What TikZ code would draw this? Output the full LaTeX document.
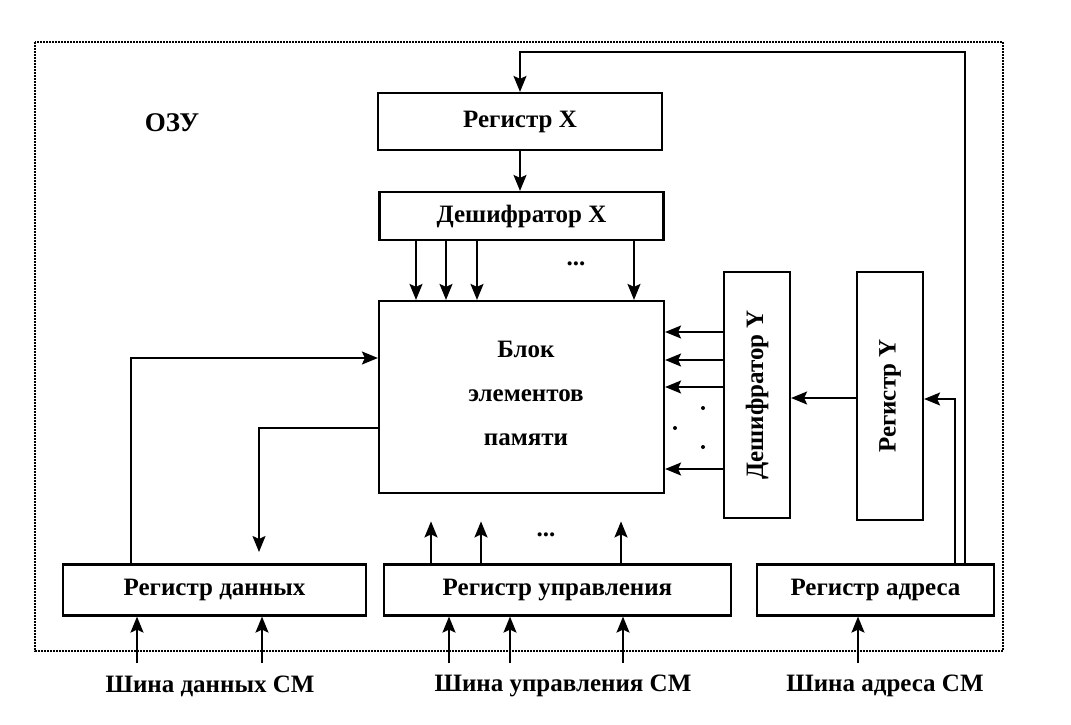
\documentclass[tikz,border=0pt]{standalone}
\usepackage{fontspec}
\setmainfont{Liberation Serif}
\usetikzlibrary{arrows.meta}
\tikzstyle{arrow} = [line width=1.8pt,-{Stealth[length=16pt,width=13pt,inset=3pt]}]
\tikzstyle{block} = [draw,line width=2.2pt,inner sep=0pt,font=\bfseries\fontsize{25}{28}\selectfont]
\tikzstyle{label} = [font=\bfseries\fontsize{25}{28}\selectfont]

\begin{document}
\begin{tikzpicture}[x=1pt,y=-1pt]
            \useasboundingbox (0,0) rectangle (1071,724);
            % outer frame
            \draw[line width=2pt,densely dotted] (35,42) rectangle (1003,651);
            \node[label,font=\bfseries\fontsize{27}{30}\selectfont] (ozu) at (172,123) {ОЗУ};

            % X side
            \node[block,minimum width=284pt,minimum height=57pt] (regx) at (520,121.5) {Регистр X};
            \node[block,minimum width=284pt,minimum height=48pt] (decx) at (521.5,216) {Дешифратор X};
            \node[block,minimum width=285pt,minimum height=192pt] (blok) at (521.5,397) {};
            \node[label,align=center,font=\bfseries\fontsize{25}{44}\selectfont] (blokt) at (526,393) {Блок\\элементов\\памяти};

            % Y side
            \node[block,rotate=90,minimum width=246pt,minimum height=66pt] (decy) at (757,395) {Дешифратор Y};
            \node[block,rotate=90,minimum width=248pt,minimum height=66pt] (regy) at (890,396) {Регистр Y};

            % lower registers
            \node[block,minimum width=303pt,minimum height=51pt] (regd) at (214.5,590) {Регистр данных};
            \node[block,minimum width=347pt,minimum height=51pt] (regu) at (557.5,590) {Регистр управления};
            \node[block,minimum width=237pt,minimum height=51pt] (rega) at (875.5,590) {Регистр адреса};

            % buses
            \node[label] (busd) at (210,686) {Шина данных СМ};
            \node[label] (busu) at (563,686) {Шина управления СМ};
            \node[label] (busa) at (885,686) {Шина адреса СМ};

            % X decoding
            \draw[arrow] (regx.south) -- (regx.south |- decx.north);
            \foreach \x in {416,446,477,634}
                \draw[arrow] (decx.south -| \x,0) -- (blok.north -| \x,0);
            \node[label] (dotsx) at (576,264) {...};

            % Y decoding
            \foreach \y in {332,360,387,469}
                \draw[arrow] (decy.north |- 0,\y) -- (blok.east |- 0,\y);
            \fill (703,408) circle (2pt) (675,428) circle (2pt) (703,447) circle (2pt);
            \draw[arrow] (regy.north |- 0,398) -- (decy.south |- 0,398);

            % address register
            \draw[arrow] (rega.north -| 955,0) |- (regy.south |- 0,399);
            \draw[arrow] (rega.north -| 965,0) -- (965,52) -| (regx.north);

            % data register
            \coordinate (dend) at (259,552);
            \draw[arrow] (regd.north -| 131,0) |- (blok.west |- 0,358);
            \draw[arrow] (blok.west |- 0,428) -| (dend);

            % control register
            \foreach \x in {431,481,621}
                \draw[arrow] (regu.north -| \x,0) -- ++(0,-42);
            \node[label] (dotsu) at (546,535) {...};

            % bus inputs
            \foreach \x in {137,262}
                \draw[arrow] (\x,663) -- (regd.south -| \x,0);
            \foreach \x in {449,510,623}
                \draw[arrow] (\x,663) -- (regu.south -| \x,0);
            \draw[arrow] (858,663) -- (rega.south -| 858,0);
        \end{tikzpicture}
\end{document}
